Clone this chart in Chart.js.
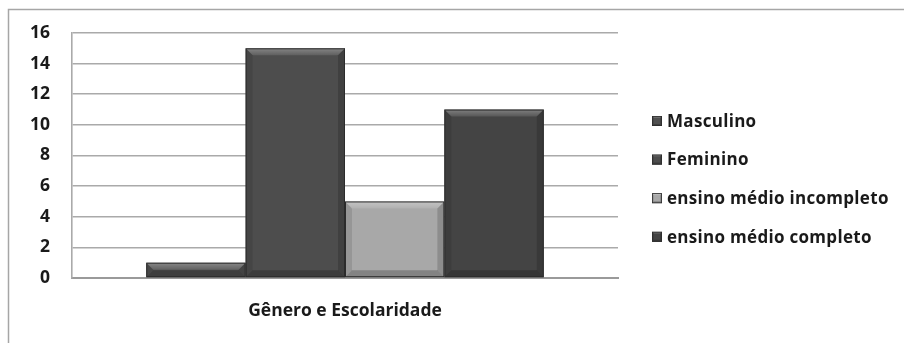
<!DOCTYPE html>
<html>
<head>
<meta charset="utf-8">
<script src="https://cdn.jsdelivr.net/npm/chart.js@4"></script>
<style>
  html, body { margin: 0; padding: 0; background: #fff; }
  #wrap { width: 904px; height: 343px; }
</style>
</head>
<body>
<div id="wrap"><canvas id="c" width="904" height="343"></canvas></div>
<script>
// Category and series
const categories = ['Gênero e Escolaridade'];
const seriesNames = ['Masculino', 'Feminino', 'ensino médio incompleto', 'ensino médio completo'];
const masculino = [1];
const feminino = [15];
const medioIncompleto = [5];
const medioCompleto = [11];
const yTicks = [0, 2, 4, 6, 8, 10, 12, 14, 16];

const seriesValues = [masculino, feminino, medioIncompleto, medioCompleto];
const fills = ['#505050', '#4d4d4d', '#a8a8a8', '#444444'];

const FONT = '"Open Sans", "Liberation Sans", sans-serif';

// White background and the outer frame (open on the right and bottom)
const framePlugin = {
  id: 'frame',
  beforeDraw(chart) {
    const ctx = chart.ctx;
    ctx.save();
    ctx.fillStyle = '#fff';
    ctx.fillRect(0, 0, chart.width, chart.height);
    ctx.strokeStyle = '#a6a6a6';
    ctx.lineWidth = 1.5;
    ctx.beginPath();
    ctx.moveTo(8.5, chart.height + 5);
    ctx.lineTo(8.5, 9.5);
    ctx.lineTo(chart.width + 5, 9.5);
    ctx.stroke();
    ctx.restore();
  }
};

// Beveled look for each bar, drawn over the bars the library placed
function bevel(ctx, left, top, right, bottom, b) {
  const poly = (pts, style) => {
    ctx.beginPath();
    ctx.moveTo(pts[0][0], pts[0][1]);
    for (let i = 1; i < pts.length; i++) ctx.lineTo(pts[i][0], pts[i][1]);
    ctx.closePath();
    ctx.fillStyle = style;
    ctx.fill();
  };
  const tg = ctx.createLinearGradient(0, top, 0, top + b);
  tg.addColorStop(0, 'rgba(255,255,255,0.32)');
  tg.addColorStop(1, 'rgba(255,255,255,0.10)');
  poly([[left, top], [right, top], [right - b, top + b], [left + b, top + b]], tg);
  poly([[left, top], [left + b, top + b], [left + b, bottom - b], [left, bottom]], 'rgba(0,0,0,0.10)');
  poly([[right, top], [right - b, top + b], [right - b, bottom - b], [right, bottom]], 'rgba(0,0,0,0.16)');
  poly([[left, bottom], [left + b, bottom - b], [right - b, bottom - b], [right, bottom]], 'rgba(0,0,0,0.22)');
}

const bevelPlugin = {
  id: 'bevel',
  afterDatasetsDraw(chart) {
    const ctx = chart.ctx;
    ctx.save();
    chart.data.datasets.forEach((ds, di) => {
      chart.getDatasetMeta(di).data.forEach(bar => {
        const p = bar.getProps(['x', 'y', 'base', 'width'], true);
        const left = p.x - p.width / 2, right = p.x + p.width / 2;
        const top = Math.min(p.y, p.base), bottom = Math.max(p.y, p.base);
        const b = Math.min(7, (bottom - top) / 2, p.width / 2);
        bevel(ctx, left, top, right, bottom, b);
        ctx.strokeStyle = '#2b2b2b';
        ctx.lineWidth = 1;
        ctx.strokeRect(left + 0.5, top + 0.5, right - left - 1, bottom - top - 1);
      });
    });
    ctx.restore();
  }
};

// Legend to the right of the plot, built from the datasets
const legendPlugin = {
  id: 'sideLegend',
  afterDraw(chart) {
    const ctx = chart.ctx;
    ctx.save();
    ctx.font = 'bold 17px ' + FONT;
    if ('letterSpacing' in ctx) ctx.letterSpacing = '0.3px';
    ctx.textBaseline = 'middle';
    ctx.textAlign = 'left';
    chart.data.datasets.forEach((ds, i) => {
      const cy = 121 + i * 38.6;
      const s = 10, x0 = 652, y0 = cy - s / 2;
      ctx.fillStyle = ds.backgroundColor;
      ctx.fillRect(x0, y0, s, s);
      bevel(ctx, x0, y0, x0 + s, y0 + s, 2);
      ctx.strokeStyle = '#2b2b2b';
      ctx.lineWidth = 0.8;
      ctx.strokeRect(x0 + 0.4, y0 + 0.4, s - 0.8, s - 0.8);
      ctx.fillStyle = '#1a1a1a';
      ctx.fillText(ds.label, 667, cy + 1);
    });
    ctx.restore();
  }
};

new Chart(document.getElementById('c'), {
  type: 'bar',
  data: {
    labels: categories,
    datasets: seriesNames.map((name, i) => ({
      label: name,
      data: seriesValues[i],
      backgroundColor: fills[i],
      borderWidth: 0,
      barPercentage: 1.0,
      categoryPercentage: 0.728
    }))
  },
  options: {
    responsive: false,
    animation: false,
    layout: { padding: { top: 33, right: 286, bottom: 0, left: 0 } },
    plugins: {
      legend: { display: false },
      tooltip: { enabled: false }
    },
    scales: {
      x: {
        grid: { display: false, drawTicks: false },
        border: { display: true, color: '#9a9a9a', width: 2 },
        ticks: {
          color: '#1a1a1a',
          padding: 23,
          font: { family: FONT, size: 17.5, weight: 'bold' }
        },
        afterFit(scale) { scale.height = 65; }
      },
      y: {
        min: 0,
        max: 16,
        afterBuildTicks(scale) { scale.ticks = yTicks.map(v => ({ value: v })); },
        grid: { color: '#aaaaaa', lineWidth: 1.6, drawTicks: false },
        border: { display: true, color: '#aaaaaa', width: 1.6 },
        ticks: {
          color: '#1a1a1a',
          padding: 22,
          font: { family: FONT, size: 17.5, weight: 'bold' }
        },
        afterFit(scale) { scale.width = 72; }
      }
    }
  },
  plugins: [framePlugin, bevelPlugin, legendPlugin]
});
</script>
</body>
</html>
